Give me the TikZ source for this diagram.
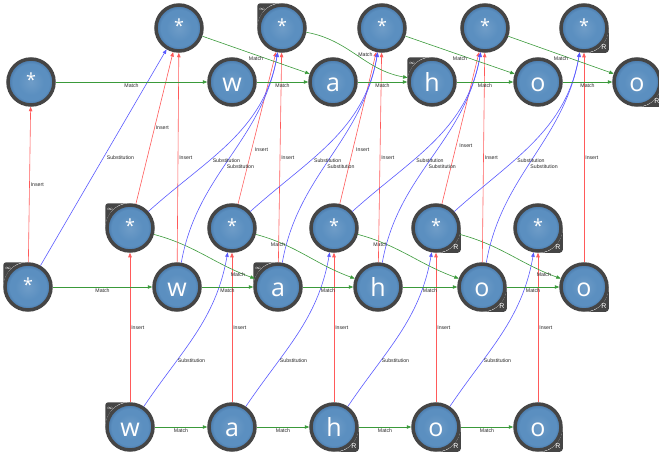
\documentclass[tikz,border=0pt]{standalone}
\usepackage{fontspec}
\setmainfont{Liberation Sans}
\newfontfamily\glyphfont{Open Sans}
\usepackage{tikz}
\usetikzlibrary{arrows.meta,positioning}

\definecolor{rim}{HTML}{454545}
\definecolor{nodeblue}{HTML}{5B8FC0}
\definecolor{nodeblueedge}{HTML}{4A7AAB}
\definecolor{matchgreen}{HTML}{3A9A3A}
\definecolor{insertred}{HTML}{FF5A5A}
\definecolor{substblue}{HTML}{5A5AFF}
\pgfdeclareradialshading{statefill}{\pgfpoint{0bp}{0bp}}{%
  color(0bp)=(nodeblue!88!white); color(14bp)=(nodeblue); color(20bp)=(nodeblue); color(24bp)=(nodeblueedge); color(50bp)=(nodeblueedge)}
% wildcard glyph, smaller and raised
\newcommand{\anychar}{{\fontsize{18}{18}\selectfont\raisebox{4.5pt}{*}}}

\begin{document}
\begin{tikzpicture}[
    x=1pt, y=1pt,
    node distance=52.5pt,
    state/.style={circle, draw=rim, line width=3.5pt, minimum size=46pt, inner sep=0pt, shade, shading=statefill, text=white, font=\glyphfont\fontsize{25}{25}\selectfont, text height=18pt, text depth=0pt},
    match/.style={draw=matchgreen, line width=0.6pt, -{Triangle[length=4.5pt, width=3.5pt]}},
    insert/.style={draw=insertred, line width=0.6pt, -{Triangle[length=4.5pt, width=3.5pt]}},
    subst/.style={draw=substblue, line width=0.6pt, -{Triangle[length=4.5pt, width=3.5pt]}},
    lbl/.style={font=\fontsize{5.2}{6}\selectfont, text=black!85, inner sep=1pt},
    tag/.style={text=white, inner sep=0pt}
]
\useasboundingbox (0,0) rectangle (659,-461);

% Level 0
\node[state] (b0) at (130,-427) {w};
\node[state, right=of b0] (b1) {a};
\node[state, right=of b1] (b2) {h};
\node[state, right=of b2] (b3) {o};
\node[state, right=of b3] (b4) {o};

% Level 1
\node[state, above=149.5pt of b0] (ms0) {\anychar};
\node[state, above=149.5pt of b1] (ms1) {\anychar};
\node[state, above=149.5pt of b2] (ms2) {\anychar};
\node[state, above=149.5pt of b3] (ms3) {\anychar};
\node[state, above=149.5pt of b4] (ms4) {\anychar};
\node[state] (ml0) at (28,-287) {\anychar};
\node[state] (ml1) at (177,-287) {w};
\node[state] (ml2) at (278,-287) {a};
\node[state] (ml3) at (378,-287) {h};
\node[state] (ml4) at (482,-287) {o};
\node[state] (ml5) at (584,-287) {o};

% Level 2
\node[state] (ts0) at (179,-28) {\anychar};
\node[state] (ts1) at (282,-28) {\anychar};
\node[state] (ts2) at (382,-28) {\anychar};
\node[state] (ts3) at (485,-28) {\anychar};
\node[state] (ts4) at (584,-28) {\anychar};
\node[state] (tl0) at (31,-82) {\anychar};
\node[state] (tl1) at (232,-82) {w};
\node[state] (tl2) at (333,-82) {a};
\node[state] (tl3) at (432,-82) {h};
\node[state] (tl4) at (538,-82) {o};
\node[state] (tl5) at (637,-82) {o};

% Corner marks
\foreach \n in {b0,ms0,ml0,ml2,ts1,tl3}{
  \fill[rim, rounded corners=3pt] (\n.west) |- (\n.north) [sharp corners] arc[start angle=90, end angle=180, radius=24.75pt] -- cycle;
  \node[tag, font=\fontsize{4}{4}\selectfont] (\n-inf) at ([shift={(-20pt,19pt)}]\n.center) {$\infty$};
}
\foreach \n in {b2,b3,b4,ms3,ms4,ml4,ml5,ts4,tl5}{
  \fill[rim, rounded corners=3pt] (\n.east) |- (\n.south) [sharp corners] arc[start angle=270, end angle=360, radius=24.75pt] -- cycle;
  \node[tag, font=\fontsize{7}{7}\selectfont] (\n-r) at ([shift={(20pt,-19pt)}]\n.center) {R};
}

% Level 0 edges
\draw[match] (b0) -- (b1) node[lbl, midway, below] {Match};
\draw[match] (b1) -- (b2) node[lbl, midway, below] {Match};
\draw[match] (b2) -- (b3) node[lbl, midway, below] {Match};
\draw[match] (b3) -- (b4) node[lbl, midway, below] {Match};

\draw[insert] (b0) -- (ms0) node[lbl, midway, right] {Insert};
\draw[insert] (b1) -- (ms1) node[lbl, midway, right] {Insert};
\draw[insert] (b2) -- (ms2) node[lbl, midway, right] {Insert};
\draw[insert] (b3) -- (ms3) node[lbl, midway, right] {Insert};
\draw[insert] (b4) -- (ms4) node[lbl, midway, right] {Insert};

\draw[subst] (b0) to[out=56, in=-100] node[lbl, pos=0.3, right] {Substitution} (ms1);
\draw[subst] (b1) to[out=56, in=-100] node[lbl, pos=0.3, right] {Substitution} (ms2);
\draw[subst] (b2) to[out=56, in=-100] node[lbl, pos=0.3, right] {Substitution} (ms3);
\draw[subst] (b3) to[out=56, in=-100] node[lbl, pos=0.3, right] {Substitution} (ms4);

% Level 1 edges
\draw[match] (ml0) -- (ml1) node[lbl, midway, below] {Match};
\draw[match] (ml1) -- (ml2) node[lbl, midway, below] {Match};
\draw[match] (ml2) -- (ml3) node[lbl, midway, below] {Match};
\draw[match] (ml3) -- (ml4) node[lbl, midway, below] {Match};
\draw[match] (ml4) -- (ml5) node[lbl, midway, below] {Match};

\draw[match] (ms0) to[out=-15, in=160] node[lbl, pos=0.85, below] {Match} (ml2);
\draw[match] (ms1) to[out=-15, in=160] node[lbl, pos=0.2, below] {Match} (ml3);
\draw[match] (ms2) to[out=-15, in=160] node[lbl, pos=0.2, below] {Match} (ml4);
\draw[match] (ms3) to[out=-15, in=160] node[lbl, pos=0.85, below] {Match} (ml5);

\draw[insert] (ml0) -- (tl0) node[lbl, midway, right] {Insert};
\draw[insert] (ml1) -- (ts0) node[lbl, midway, right] {Insert};
\draw[insert] (ml2) -- (ts1) node[lbl, midway, right] {Insert};
\draw[insert] (ml3) -- (ts2) node[lbl, midway, right] {Insert};
\draw[insert] (ml4) -- (ts3) node[lbl, midway, right] {Insert};
\draw[insert] (ml5) -- (ts4) node[lbl, midway, right] {Insert};
\draw[insert] (ms0) -- (ts0) node[lbl, midway, right] {Insert};
\draw[insert] (ms1) -- (ts1) node[lbl, pos=0.36, right=2pt] {Insert};
\draw[insert] (ms2) -- (ts2) node[lbl, pos=0.36, right=2pt] {Insert};
\draw[insert] (ms3) -- (ts3) node[lbl, pos=0.38, right=2pt] {Insert};

\draw[subst] (ml0) -- (ts0) node[lbl, midway, right=2pt] {Substitution};
\draw[subst] (ml1) to[out=80, in=-100] node[lbl, pos=0.45, right=2pt] {Substitution} (ts1);
\draw[subst] (ml2) to[out=80, in=-100] node[lbl, pos=0.45, right=2pt] {Substitution} (ts2);
\draw[subst] (ml3) to[out=80, in=-100] node[lbl, pos=0.45, right=2pt] {Substitution} (ts3);
\draw[subst] (ml4) to[out=80, in=-100] node[lbl, pos=0.45, right=2pt] {Substitution} (ts4);
\draw[subst] (ms0) to[out=42, in=-100] node[lbl, pos=0.36, right=2pt] {Substitution} (ts1);
\draw[subst] (ms1) to[out=42, in=-100] node[lbl, pos=0.36, right=2pt] {Substitution} (ts2);
\draw[subst] (ms2) to[out=42, in=-100] node[lbl, pos=0.36, right=2pt] {Substitution} (ts3);
\draw[subst] (ms3) to[out=42, in=-100] node[lbl, pos=0.36, right=2pt] {Substitution} (ts4);

% Level 2 edges
\draw[match] (tl0) -- (tl1) node[lbl, midway, below] {Match};
\draw[match] (tl1) -- (tl2) node[lbl, midway, below] {Match};
\draw[match] (tl2) -- (tl3) node[lbl, midway, below] {Match};
\draw[match] (tl3) -- (tl4) node[lbl, midway, below] {Match};
\draw[match] (tl4) -- (tl5) node[lbl, midway, below] {Match};

\draw[match] (ts0) -- (tl2) node[lbl, midway, below] {Match};
\draw[match] (ts1) to[out=-10, in=170] node[lbl, pos=0.5, right] {Match} (tl3);
\draw[match] (ts2) -- (tl4) node[lbl, midway, below] {Match};
\draw[match] (ts3) -- (tl5) node[lbl, midway, below] {Match};

\end{tikzpicture}
\end{document}
